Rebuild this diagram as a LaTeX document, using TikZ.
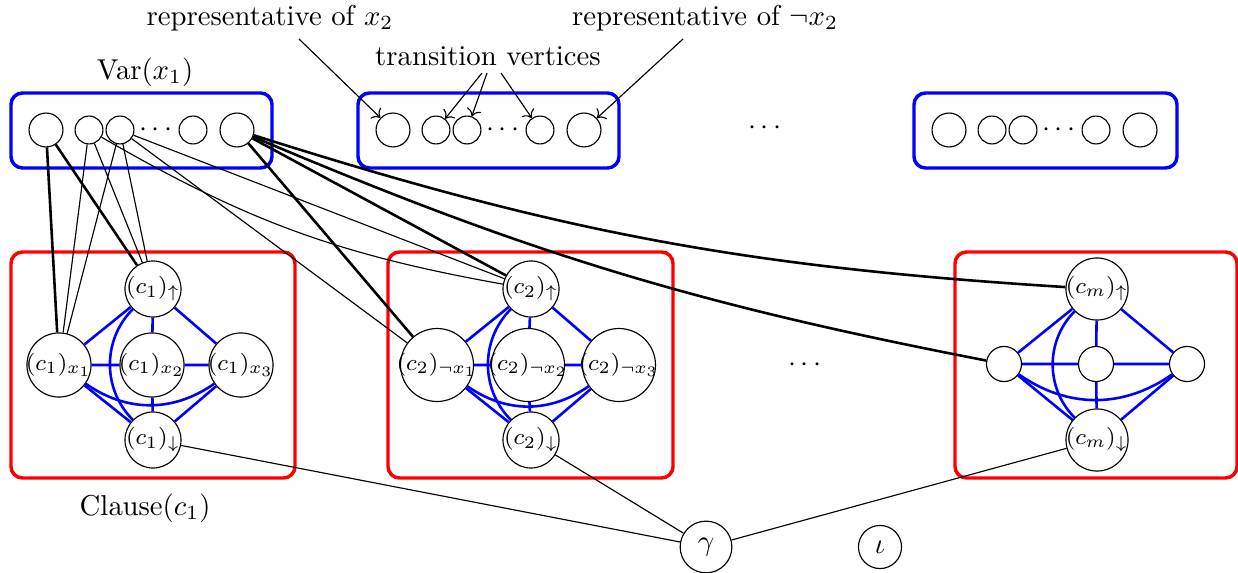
\documentclass[tikz,border=0pt]{standalone}
\usetikzlibrary{arrows.meta}
\newcommand\mkz[1]{\makebox[0pt]{#1}}
\newcommand\nfont{\fontsize{8.5}{10}\selectfont}
\begin{document}
\begin{tikzpicture}[x=0.348pt,y=-0.348pt,
  every node/.style={inner sep=0pt},
  vb/.style={circle,draw,minimum size=11.8pt},
  vs/.style={circle,draw,minimum size=9.7pt},
  cn/.style={circle,draw,minimum size=19.5pt,font=\nfont},
  xa/.style={circle,draw,minimum size=22.3pt,font=\nfont},
  xb/.style={circle,draw,minimum size=25.4pt,font=\nfont},
  cmb/.style={circle,draw,minimum size=21.6pt,font=\nfont},
  cms/.style={circle,draw,minimum size=12.2pt},
  varbox/.style={draw=blue,line width=1.2pt,rounded corners=4pt},
  clbox/.style={draw=red,line width=1.2pt,rounded corners=4pt},
  be/.style={blue,line width=0.9pt},
  tk/.style={line width=0.9pt},
  tn/.style={line width=0.4pt},
]
\useasboundingbox (0,0) rectangle (1238,573);

% variable gadgets
\draw[varbox] (11,93) rectangle (272,168);
\draw[varbox] (358,93) rectangle (619,168);
\draw[varbox] (914,93) rectangle (1177,168);
\foreach \s/\n in {0/a,347/b,903/c}{
  \node[vb] (\n1) at (46+\s,130) {};
  \node[vs] (\n2) at (89+\s,130) {};
  \node[vs] (\n3) at (120+\s,130) {};
  \node[anchor=base] (\n d) at (156+\s,137) {$\cdots$};
  \node[vs] (\n4) at (193+\s,130) {};
  \node[vb] (\n5) at (237+\s,130) {};
}
\node[anchor=base] (topdots) at (765,135) {$\cdots$};
\node (varlab) at (145,72) {$\mathrm{Var}(x_1)$};

% labels and arrows
\node (repx) at (270,18) {representative of $x_2$};
\node (repnx) at (705,18) {representative of $\neg x_2$};
\node (trans) at (488,56) {transition vertices};
\coordinate (ar1) at (299,39);
\coordinate (ar2) at (683,39);
\coordinate (at1) at (482,73);
\coordinate (at2) at (487,73);
\coordinate (at3) at (501,73);
\draw[tn,->] (ar1) -- (b1);
\draw[tn,->] (ar2) -- (b5);
\draw[tn,->] (at1) -- (b2);
\draw[tn,->] (at2) -- (b3);
\draw[tn,->] (at3) -- (b4);

% clause c1
\draw[clbox] (11,252) rectangle (295,478);
\node[cn] (u1) at (153,289) {\mkz{$(c_1)_\uparrow$}};
\node[xa] (p1) at (59,365) {\mkz{$(c_1)_{x_1}$}};
\node[xa] (q1) at (152,365) {\mkz{$(c_1)_{x_2}$}};
\node[xa] (r1) at (241,365) {\mkz{$(c_1)_{x_3}$}};
\node[cn] (d1) at (153,440) {\mkz{$(c_1)_\downarrow$}};
\node (cllab) at (145,508) {$\mathrm{Clause}(c_1)$};

% clause c2
\draw[clbox] (388,252) rectangle (673,478);
\node[cn] (u2) at (531,289) {\mkz{$(c_2)_\uparrow$}};
\node[xb] (p2) at (437,365) {\mkz{$(c_2)_{\neg x_1}$}};
\node[xb] (q2) at (528,365) {\mkz{$(c_2)_{\neg x_2}$}};
\node[xb] (r2) at (619,365) {\mkz{$(c_2)_{\neg x_3}$}};
\node[cn] (d2) at (531,440) {\mkz{$(c_2)_\downarrow$}};

\node[anchor=base] (cldots) at (805,372) {$\cdots$};

% clause cm
\draw[clbox] (955,252) rectangle (1237,478);
\node[cmb] (um) at (1097,289) {\mkz{$(c_m)_\uparrow$}};
\node[cms] (pm) at (1004,364) {};
\node[cms] (qm) at (1096,364) {};
\node[cms] (rm) at (1187,364) {};
\node[cmb] (dm) at (1097,440) {\mkz{$(c_m)_\downarrow$}};

% gadget edges
\foreach \k in {1,2,m}{
  \draw[be] (u\k)--(p\k) (u\k)--(q\k) (u\k)--(r\k) (p\k)--(q\k) (q\k)--(r\k)
            (p\k)--(d\k) (q\k)--(d\k) (r\k)--(d\k);
  \draw[be] (u\k) to[bend right=45] (d\k);
  \draw[be] (p\k) to[bend right=35] (r\k);
}

% variable-clause edges
\draw[tk] (a1)--(p1) (a1)--(u1);
\draw[tn] (a2)--(p1) (a2)--(u1) (a3)--(p1) (a3)--(u1) (a3)--(u2) (a3)--(p2);
\draw[tn] (a2) to[bend right=10] (u2);
\draw[tk] (a5)--(p2) (a5)--(u2);
\draw[tk] (a5) to[bend right=7] (um);
\draw[tk] (a5) to[bend right=6] (pm);

% gamma, iota
\node[circle,draw,minimum size=18pt] (g) at (706,547) {$\gamma$};
\node[circle,draw,minimum size=15pt] (io) at (880,547) {$\iota$};
\draw[tn] (d1)--(g) (d2)--(g) (dm)--(g);
\end{tikzpicture}
\end{document}
